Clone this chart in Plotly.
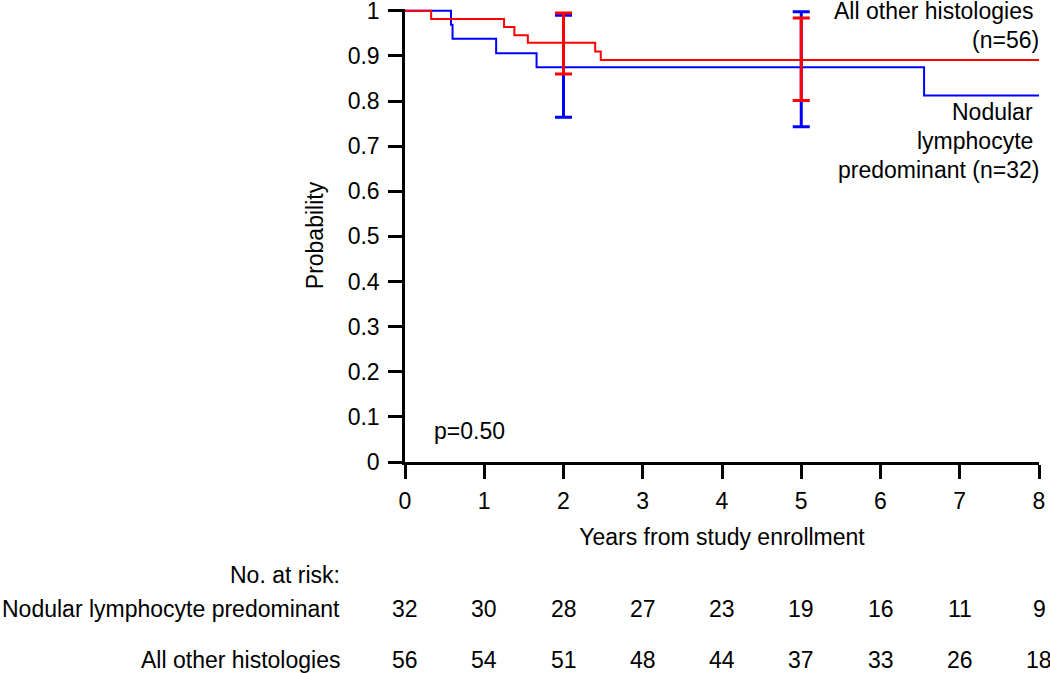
import plotly.graph_objects as go

# ---- data ----
red_t = [0, 0.33, 1.25, 1.38, 1.55, 2.40, 2.47, 8]
red_s = [1, 0.982, 0.964, 0.946, 0.929, 0.910, 0.891, 0.891]
blue_t = [0, 0.58, 0.60, 1.15, 1.66, 6.55, 8]
blue_s = [1, 0.969, 0.938, 0.906, 0.875, 0.8125, 0.8125]

ci_t = [2, 5]
red_est = [0.929, 0.891]
red_hi = [0.995, 0.984]
red_lo = [0.860, 0.801]
blue_est = [0.875, 0.875]
blue_hi = [0.990, 0.998]
blue_lo = [0.764, 0.743]

risk_t = [0, 1, 2, 3, 4, 5, 6, 7, 8]
risk_nlp = [32, 30, 28, 27, 23, 19, 16, 11, 9]
risk_other = [56, 54, 51, 48, 44, 37, 33, 26, 18]

xticks = [0, 1, 2, 3, 4, 5, 6, 7, 8]
yticks = [0, 0.1, 0.2, 0.3, 0.4, 0.5, 0.6, 0.7, 0.8, 0.9, 1]
ytick_text = ["0", "0.1", "0.2", "0.3", "0.4", "0.5", "0.6", "0.7", "0.8", "0.9", "1"]

RED = "#ff0000"
BLUE = "#0000ff"
FONT = "Liberation Sans, Arial, sans-serif"
FS = 23

fig = go.Figure()
fig.add_trace(go.Scatter(x=blue_t, y=blue_s, mode="lines", line=dict(color=BLUE, width=2, shape="hv"),
                         showlegend=False, hoverinfo="skip"))
fig.add_trace(go.Scatter(x=red_t, y=red_s, mode="lines", line=dict(color=RED, width=2, shape="hv"),
                         showlegend=False, hoverinfo="skip"))


def ci_trace(est, hi, lo, color):
    return go.Scatter(
        x=ci_t, y=est, mode="markers", marker=dict(size=1, opacity=0),
        error_y=dict(type="data", symmetric=False,
                     array=[h - e for h, e in zip(hi, est)],
                     arrayminus=[e - l for e, l in zip(est, lo)],
                     color=color, thickness=3, width=8.5),
        showlegend=False, hoverinfo="skip")


fig.add_trace(ci_trace(blue_est, blue_hi, blue_lo, BLUE))
fig.add_trace(ci_trace(red_est, red_hi, red_lo, RED))

ann = []
# curve labels
ann.append(dict(x=8, y=1.0, xref="x", yref="y", text="All other histologies", showarrow=False,
                xanchor="right", yanchor="middle", xshift=-4))
ann.append(dict(x=8, y=0.936, xref="x", yref="y", text="(n=56)", showarrow=False,
                xanchor="right", yanchor="middle", xshift=2))
ann.append(dict(x=8, y=0.775, xref="x", yref="y", text="Nodular", showarrow=False,
                xanchor="right", yanchor="middle", xshift=-4))
ann.append(dict(x=8, y=0.711, xref="x", yref="y", text="lymphocyte", showarrow=False,
                xanchor="right", yanchor="middle", xshift=-4))
ann.append(dict(x=8, y=0.647, xref="x", yref="y", text="predominant (n=32)", showarrow=False,
                xanchor="right", yanchor="middle", xshift=2))
ann.append(dict(x=0.34, y=0.069, xref="x", yref="y", text="p=0.50", showarrow=False,
                xanchor="left", yanchor="middle"))

# at-risk table
ann.append(dict(x=-0.0994, y=-0.249, xref="paper", yref="paper", text="No. at risk:", showarrow=False,
                xanchor="right", yanchor="middle"))
ann.append(dict(x=-0.0994, y=-0.325, xref="paper", yref="paper", text="Nodular lymphocyte predominant",
                showarrow=False, xanchor="right", yanchor="middle"))
ann.append(dict(x=-0.0994, y=-0.438, xref="paper", yref="paper", text="All other histologies",
                showarrow=False, xanchor="right", yanchor="middle"))
for t, n in zip(risk_t, risk_nlp):
    ann.append(dict(x=t, y=-0.325, xref="x", yref="paper", text=str(n), showarrow=False,
                    xanchor="center", yanchor="middle"))
for t, n in zip(risk_t, risk_other):
    ann.append(dict(x=t, y=-0.438, xref="x", yref="paper", text=str(n), showarrow=False,
                    xanchor="center", yanchor="middle"))

fig.update_layout(
    width=1050, height=673,
    margin=dict(l=405, r=11, t=9, b=211, autoexpand=False),
    paper_bgcolor="white", plot_bgcolor="white",
    font=dict(family=FONT, size=FS, color="black"),
    annotations=ann,
    showlegend=False,
)
fig.update_xaxes(range=[0, 8], tickvals=xticks, ticktext=[str(v) for v in xticks],
                 automargin=False,
                 showgrid=False, zeroline=False, showline=True, linecolor="black", linewidth=2.5,
                 ticks="outside", ticklen=14, tickwidth=2.5, tickcolor="black",
                 ticklabeloverflow="allow", ticklabelstandoff=3,
                 tickfont=dict(family=FONT, size=FS, color="black"),
                 title=dict(text="Years from study enrollment", standoff=16,
                            font=dict(family=FONT, size=FS, color="black")))
fig.update_yaxes(range=[0, 1.004], tickvals=yticks, ticktext=ytick_text,
                 automargin=False,
                 showgrid=False, zeroline=False, showline=True, linecolor="black", linewidth=2.5,
                 ticks="outside", ticklen=14, tickwidth=2.5, tickcolor="black",
                 ticklabelstandoff=4, ticklabeloverflow="allow",
                 tickfont=dict(family=FONT, size=FS, color="black"),
                 title=dict(text="Probability", standoff=18,
                            font=dict(family=FONT, size=FS, color="black")))

fig.write_html("out.html", config={"displayModeBar": False},
               post_script="document.body.style.margin='0';")
